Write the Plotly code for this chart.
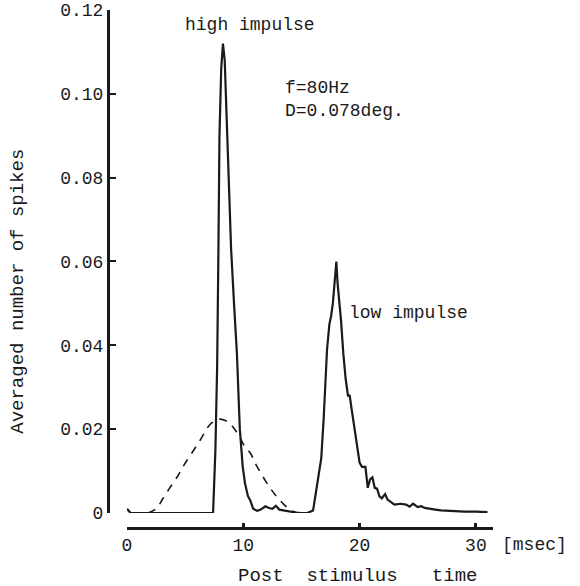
import plotly.graph_objects as go

# post stimulus time histogram (msec, averaged spikes)
psth_t = [0, 0.3, 1, 2, 3, 4, 5, 6, 7, 7.4, 7.6, 7.75, 7.85, 7.95, 8.1, 8.25, 8.4, 8.7,
          8.95, 9.2, 9.45, 9.7, 9.95, 10.15, 10.4, 10.6, 10.85, 11.2, 11.5, 11.9, 12.2,
          12.5, 12.8, 13.1, 13.5, 14, 14.5, 15, 15.5, 16.0, 16.3, 16.5, 16.7, 16.9, 17.05,
          17.2, 17.4, 17.55, 17.7, 17.8, 17.9, 18.0, 18.1, 18.2, 18.4, 18.6, 18.8, 19.0,
          19.15, 19.3, 19.6, 19.8, 20.0, 20.2, 20.5, 20.7, 20.9, 21.1, 21.3, 21.5, 21.7,
          21.9, 22.2, 22.4, 22.6, 23.0, 23.5, 24.0, 24.3, 24.6, 25.0, 25.3, 25.6, 26.0,
          26.5, 27, 28, 29, 30, 31]
psth_y = [0.001, 0.0, 0, 0, 0, 0, 0, 0, 0, 0.0, 0.015, 0.035, 0.06, 0.09, 0.106, 0.112,
          0.108, 0.085, 0.063, 0.05, 0.038, 0.02, 0.011, 0.007, 0.004, 0.003, 0.001,
          0.0005, 0.0008, 0.0016, 0.0012, 0.0010, 0.0017, 0.0008, 0.0006, 0.0003, 0.0001,
          0.0, 0.0, 0.0006, 0.006, 0.009, 0.013, 0.022, 0.032, 0.039, 0.045, 0.047, 0.05,
          0.053, 0.056, 0.060, 0.055, 0.052, 0.046, 0.038, 0.032, 0.028, 0.028, 0.025,
          0.019, 0.016, 0.012, 0.011, 0.011, 0.006, 0.008, 0.0085, 0.006, 0.0058, 0.004,
          0.0035, 0.0045, 0.0032, 0.0028, 0.002, 0.0022, 0.002, 0.0015, 0.0022, 0.0014,
          0.0016, 0.0012, 0.0011, 0.0008, 0.0006, 0.0004, 0.0003, 0.0003, 0.0002]

# dashed smooth curve
bell_t = [1.8, 2.5, 3.1, 3.8, 4.4, 4.8, 5.5, 6.3, 7.1, 7.6, 8.0, 8.5, 8.9, 9.3, 9.7,
          10.1, 10.6, 11.1, 11.7, 12.3, 12.9, 13.5, 14.0, 14.5, 14.8]
bell_y = [0, 0.001, 0.0035, 0.0065, 0.009, 0.011, 0.014, 0.0174, 0.021, 0.022, 0.0224,
          0.022, 0.0212, 0.0198, 0.018, 0.016, 0.0143, 0.0115, 0.0086, 0.006, 0.0038,
          0.002, 0.0008, 0.0002, 0]

y_ticks = [0, 0.02, 0.04, 0.06, 0.08, 0.10, 0.12]
y_labels = ["0", "0.02", "0.04", "0.06", "0.08", "0.10", "0.12"]
x_ticks = [0, 10, 20, 30]

FONT = "Liberation Mono, Courier New, monospace"
INK = "#1a1a1a"

fig = go.Figure()
fig.add_trace(go.Scatter(x=bell_t, y=bell_y, mode="lines",
                         line=dict(color=INK, width=1.6, dash="8px,7px"),
                         line_shape="spline", showlegend=False))
fig.add_trace(go.Scatter(x=psth_t, y=psth_y, mode="lines",
                         line=dict(color=INK, width=2.2), showlegend=False))

fig.add_annotation(x=10.6, y=0.1165, text="high impulse", showarrow=False,
                   font=dict(size=18))
fig.add_annotation(x=13.4, y=0.1014, text="f=80Hz", showarrow=False,
                   xanchor="left", font=dict(size=18))
fig.add_annotation(x=13.4, y=0.0959, text="D=0.078deg.", showarrow=False,
                   xanchor="left", font=dict(size=18))
fig.add_annotation(x=18.9, y=0.0477, text="low impulse", showarrow=False,
                   xanchor="left", font=dict(size=18))
# texts outside the plot use paper coordinates, anchored explicitly at their centre
fig.add_annotation(xref="paper", yref="paper", x=1.018, y=-0.0328, text="[msec]",
                   showarrow=False, xanchor="left", yanchor="middle", font=dict(size=18))
fig.add_annotation(xref="paper", yref="paper", x=0.647, y=-0.0927,
                   text="Post  stimulus   time", showarrow=False,
                   xanchor="center", yanchor="middle", font=dict(size=19))
fig.add_annotation(xref="paper", x=-0.234, y=0.053, text="Averaged number of spikes",
                   textangle=-90, showarrow=False, xanchor="center", yanchor="middle",
                   font=dict(size=19))

fig.update_layout(
    width=580, height=586,
    margin=dict(l=108, r=87, t=10, b=58, autoexpand=False),
    plot_bgcolor="white", paper_bgcolor="white",
    font=dict(family=FONT, color=INK, size=18),
    xaxis=dict(range=[0, 31.47], domain=[0.0494, 1], anchor="free", position=0,
               automargin=False,
               showgrid=False, zeroline=False, showline=True, linewidth=2.5,
               linecolor=INK, ticks="inside", ticklen=4, tickwidth=3, tickcolor=INK,
               tickvals=x_ticks, tickfont=dict(size=18)),
    yaxis=dict(range=[0, 0.12], domain=[0.029, 1], anchor="free", position=0,
               automargin=False,
               showgrid=False, zeroline=False, showline=True, linewidth=3,
               linecolor=INK, ticks="inside", ticklen=6, tickwidth=2, tickcolor=INK,
               tickvals=y_ticks, ticktext=y_labels, tickfont=dict(size=18)),
)

# page body has a default 8px margin; drop it so the figure sits at the window corner
fig.write_html("out.html", config={"displayModeBar": False},
               post_script="document.body.style.margin='0';")
